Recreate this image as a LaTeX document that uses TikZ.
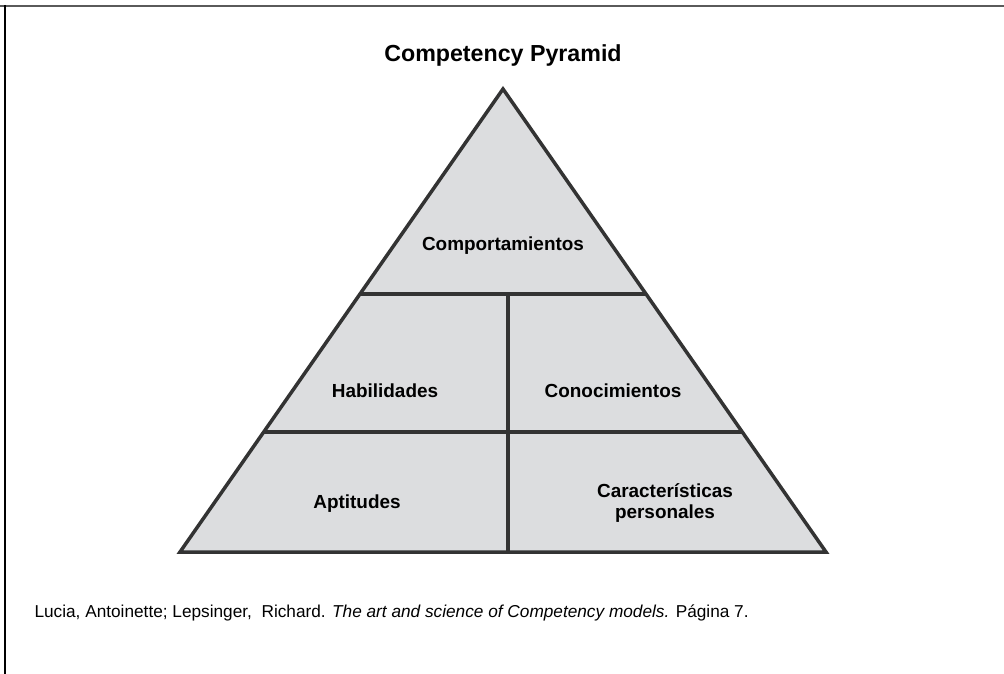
\documentclass[tikz,border=0pt]{standalone}
\usepackage{fontspec}
\setmainfont{Liberation Sans}
\usetikzlibrary{positioning,calc}
\definecolor{tierfill}{HTML}{DCDDDF}
\definecolor{tierline}{HTML}{333333}
\definecolor{framegray}{HTML}{5A5A5A}

\begin{document}
\begin{tikzpicture}[x=1bp,y=-1bp,
  lbl/.style={font=\fontsize{19}{22}\selectfont\bfseries,align=center},
  tier/.style={fill=tierfill,draw=tierline,line width=3.5bp,line join=miter},
  divider/.style={draw=tierline,line width=4bp}]
\useasboundingbox (0,0) rectangle (1004,674);
% frame
\draw[framegray,line width=2.5bp] (0,6) -- (1004,6);
\draw[black,line width=2bp] (5,5) -- (5,674);
% pyramid outline
\coordinate (apex) at (503,89);
\coordinate (baseL) at (180,552);
\coordinate (baseR) at (826,552);
\filldraw[tier] (apex) -- (baseL) -- (baseR) -- cycle;
% tiers
\coordinate (midL) at ($(apex)!0.4428!(baseL)$);
\coordinate (midR) at ($(apex)!0.4428!(baseR)$);
\coordinate (lowL) at ($(apex)!0.7408!(baseL)$);
\coordinate (lowR) at ($(apex)!0.7408!(baseR)$);
\coordinate (divTop) at (508,294);
\coordinate (divBot) at (508,552);
\draw[divider] (midL) -- (midR);
\draw[divider] (lowL) -- (lowR);
\draw[divider] (divTop) -- (divBot);
% labels
\node[font=\fontsize{23.3}{27}\selectfont\bfseries] (title) at (503,55) {Competency Pyramid};
\node[lbl] (beh) at (503,246) {Comportamientos};
\node[lbl] (skill) at (385,391) {Habilidades};
\node[lbl] (know) at (613,391) {Conocimientos};
\node[lbl] (apt) at (357,504) {Aptitudes};
\node[lbl] (pers) at (665,503) {Características\\personales};
% source
\node[anchor=west,font=\fontsize{17.3}{20}\selectfont] (src) at (31,613)
  {Lucia, Antoinette; Lepsinger,~~Richard. \textit{The art and science of Competency models.} Página 7.};
\end{tikzpicture}
\end{document}
